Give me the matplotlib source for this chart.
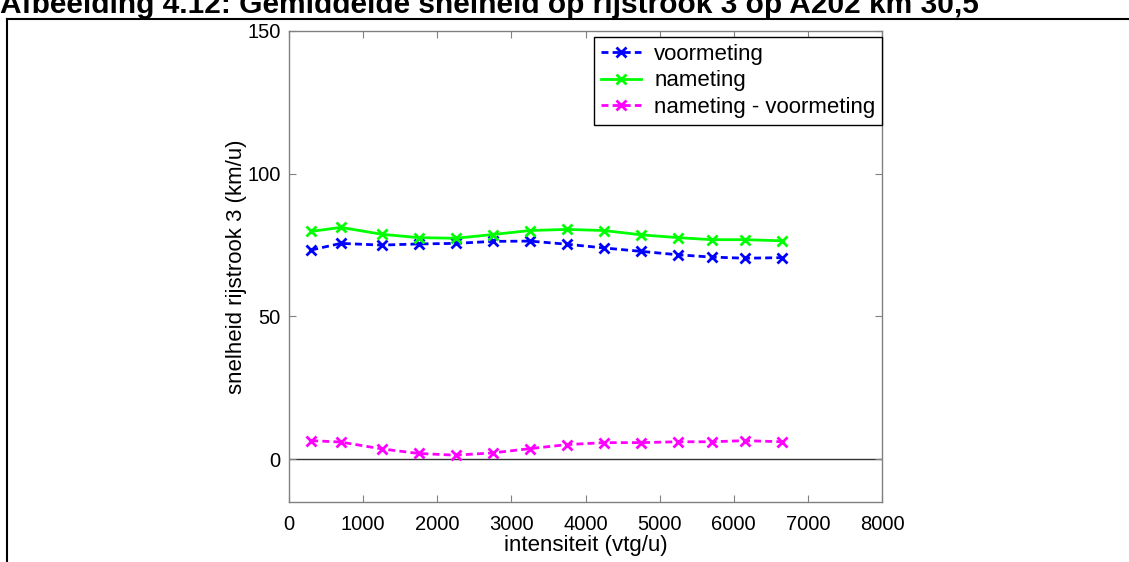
import numpy as np
import matplotlib
matplotlib.use("Agg")
import matplotlib.pyplot as plt
from matplotlib.lines import Line2D

plt.rcParams['font.family'] = ['Liberation Sans', 'DejaVu Sans']

# intensiteit (vtg/u)
intensiteit = [300, 700, 1250, 1750, 2250, 2750, 3250, 3750, 4250, 4750, 5250, 5700, 6150, 6650]
# snelheid rijstrook 3 (km/u)
voormeting = [73.3, 75.6, 75.0, 75.4, 75.6, 76.3, 76.4, 75.3, 74.0, 72.8, 71.6, 70.8, 70.4, 70.6]
nameting = [79.8, 81.2, 78.8, 77.6, 77.4, 78.7, 80.1, 80.5, 80.1, 78.6, 77.6, 76.9, 76.9, 76.5]
verschil = [6.5, 6.0, 3.6, 2.0, 1.4, 2.2, 3.7, 5.1, 5.8, 5.8, 6.1, 6.1, 6.5, 6.1]

titel = "Afbeelding 4.12: Gemiddelde snelheid op rijstrook 3 op A202 km 30,5"

fs_tick = 14.5
fs_lab = 16
lw = 2
ms = 7

fig = plt.figure(figsize=(11.29, 5.62), dpi=100)
ax = fig.add_axes([289/1129, 1-502/562, 593/1129, 471/562])

ax.plot(intensiteit, voormeting, color='#0000ff', ls=(0, (2.5, 1.5)), lw=lw,
        marker='x', ms=ms, mew=2, label='voormeting')
ax.plot(intensiteit, nameting, color='#00ff00', ls='-', lw=lw,
        marker='x', ms=ms, mew=2, label='nameting')
ax.plot(intensiteit, verschil, color='#ff00ff', ls=(0, (2.5, 1.5)), lw=lw,
        marker='x', ms=ms, mew=2, label='nameting - voormeting')
ax.axhline(0, color='#333333', lw=1, zorder=1)

ax.set_xlim(0, 8000)
ax.set_ylim(-15, 150)
ax.set_xticks(np.arange(0, 8001, 1000))
ax.set_yticks([0, 50, 100, 150])
ax.tick_params(direction='in', length=5, color='#808080', labelsize=fs_tick,
               top=True, right=True)
ax.tick_params(axis='x', pad=9)
ax.tick_params(axis='y', pad=6)
for s in ax.spines.values():
    s.set_color('#808080')
    s.set_linewidth(1)

ax.set_xlabel('intensiteit (vtg/u)', fontsize=fs_lab, labelpad=1)
ax.set_ylabel('snelheid rijstrook 3 (km/u)', fontsize=fs_lab, labelpad=0)

leg = ax.legend(loc='upper right', bbox_to_anchor=(1.0, 0.987), borderaxespad=0,
                fontsize=fs_lab, fancybox=False, framealpha=1, edgecolor='black',
                handlelength=1.8, handletextpad=0.6, labelspacing=0.25,
                borderpad=0.3)
leg.get_frame().set_linewidth(1)

# rand van de afbeelding
fig.add_artist(Line2D([7/1129, 1], [1-19/562, 1-19/562], color='black', lw=1.5,
                      transform=fig.transFigure))
fig.add_artist(Line2D([7/1129, 7/1129], [1-19/562, 0], color='black', lw=1.5,
                      transform=fig.transFigure))
fig.text(0.0, 1-13/562, titel, fontsize=21.5, fontweight='bold', va='baseline', ha='left')

fig.savefig('out.png', dpi=100, facecolor='white')
